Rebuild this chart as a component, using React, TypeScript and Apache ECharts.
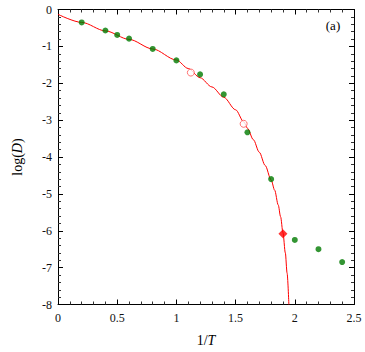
import React, { useEffect, useRef } from "react";
import * as echarts from "echarts";

// Green data points (1/T, log D)
const dataX = [0.2, 0.4, 0.5, 0.6, 0.8, 1.0, 1.2, 1.4, 1.6, 1.8, 2.0, 2.2, 2.4];
const dataY = [-0.35, -0.57, -0.69, -0.79, -1.07, -1.38, -1.76, -2.3, -3.33, -4.6, -6.25, -6.5, -6.85];

// Red fitted curve
const curveX = [0, 0.2, 0.4, 0.6, 0.8, 1.0, 1.1, 1.2, 1.3, 1.4, 1.5, 1.57, 1.6, 1.65, 1.7, 1.75, 1.8, 1.83, 1.86, 1.88, 1.9, 1.92, 1.935, 1.95];
const curveY = [-0.13, -0.35, -0.58, -0.81, -1.07, -1.37, -1.6, -1.85, -2.1, -2.38, -2.72, -3.05, -3.22, -3.53, -3.87, -4.23, -4.62, -4.9, -5.3, -5.62, -6.05, -6.6, -7.15, -8.0];

// Open red markers
const openX = [1.122, 1.568];
const openY = [-1.71, -3.1];

// Filled red marker
const starX = [1.9];
const starY = [-6.08];

const xTicks = { min: 0, max: 2.5, interval: 0.5 };
const yTicks = { min: -8, max: 0, interval: 1 };

const FONT = "'Liberation Serif', 'Times New Roman', serif";

export default function App() {
  const ref = useRef<HTMLDivElement>(null);
  useEffect(() => {
    if (!ref.current) return;
    const chart = echarts.init(ref.current, null, { renderer: "svg" });
    const axisCommon = {
      type: "value" as const,
      axisLine: { show: true, onZero: false, lineStyle: { color: "#000", width: 1 } },
      axisTick: { show: true, inside: true, length: 5, lineStyle: { color: "#000", width: 1 } },
      minorTick: { show: true, splitNumber: 5, length: 3, lineStyle: { color: "#333", width: 1 } },
      splitLine: { show: false },
      minorSplitLine: { show: false },
    };
    const labelStyle = { color: "#111", fontFamily: FONT, fontSize: 12 };
    chart.setOption({
      animation: false,
      backgroundColor: "#fff",
      grid: { left: 58, right: 11, top: 9.5, bottom: 47.5, containLabel: false },
      xAxis: [
        {
          ...axisCommon,
          ...xTicks,
          position: "bottom",
          axisLabel: { ...labelStyle, margin: 7, formatter: (v: number) => String(v) },
        },
        {
          ...axisCommon,
          ...xTicks,
          position: "top",
          axisLabel: { show: false },
        },
      ],
      yAxis: [
        {
          ...axisCommon,
          ...yTicks,
          position: "left",
          axisLabel: { ...labelStyle, margin: 6, formatter: (v: number) => String(v) },
        },
        {
          ...axisCommon,
          ...yTicks,
          position: "right",
          axisLabel: { show: false },
        },
      ],
      series: [
        {
          type: "line",
          xAxisIndex: 0,
          yAxisIndex: 0,
          data: curveX.map((x, i) => [x, curveY[i]]),
          smooth: 0.3,
          smoothMonotone: "x",
          showSymbol: false,
          symbol: "none",
          lineStyle: { color: "#ff0000", width: 1 },
          clip: true,
          z: 2,
        },
        {
          type: "scatter",
          xAxisIndex: 0,
          yAxisIndex: 0,
          data: dataX.map((x, i) => [x, dataY[i]]),
          symbol: "circle",
          symbolSize: 6,
          itemStyle: { color: "#007a00" },
          z: 3,
        },
        {
          type: "scatter",
          xAxisIndex: 0,
          yAxisIndex: 0,
          data: openX.map((x, i) => [x, openY[i]]),
          symbol: "circle",
          symbolSize: 7,
          itemStyle: { color: "#fff", borderColor: "#ff5050", borderWidth: 1 },
          z: 4,
        },
        {
          type: "scatter",
          xAxisIndex: 0,
          yAxisIndex: 0,
          data: starX.map((x, i) => [x, starY[i]]),
          symbol: "diamond",
          symbolSize: 9,
          itemStyle: { color: "#ff0000" },
          z: 4,
        },
      ],
      graphic: [
        {
          type: "text",
          x: 333,
          y: 25,
          style: {
            text: "(a)",
            font: `13px ${FONT}`,
            fill: "#000",
            align: "center",
            verticalAlign: "middle",
          },
        },
        {
          type: "text",
          x: 206,
          y: 340,
          style: {
            text: "{n|1/}{i|T}",
            align: "center",
            verticalAlign: "middle",
            rich: {
              n: { fontFamily: FONT, fontSize: 14, fill: "#000" },
              i: { fontFamily: FONT, fontSize: 14, fontStyle: "italic", fill: "#000" },
            },
          },
        },
        {
          type: "text",
          x: 17,
          y: 157,
          rotation: Math.PI / 2,
          style: {
            text: "{n|log(}{i|D}{n|)}",
            align: "center",
            verticalAlign: "middle",
            rich: {
              n: { fontFamily: FONT, fontSize: 14, fill: "#000" },
              i: { fontFamily: FONT, fontSize: 14, fontStyle: "italic", fill: "#000" },
            },
          },
        },
      ],
    });
    return () => chart.dispose();
  }, []);
  return (
    <div
      ref={ref}
      style={{ position: "fixed", left: 0, top: 0, width: 365, height: 352 }}
    />
  );
}
